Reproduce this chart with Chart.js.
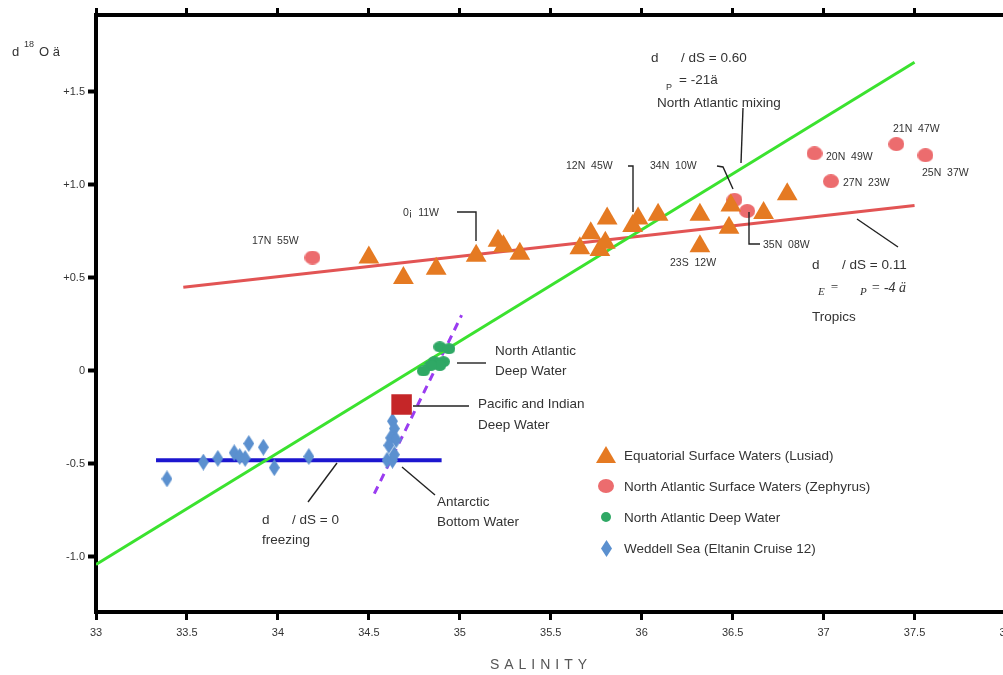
<!DOCTYPE html>
<html>
<head>
<meta charset="utf-8">
<script src="https://cdn.jsdelivr.net/npm/chart.js@4.4.1/dist/chart.umd.min.js"></script>
<style>
  html, body { margin: 0; padding: 0; background: #fff; overflow: hidden; }
  canvas { display: block; }
</style>
</head>
<body>
<canvas id="chart" width="1020" height="675"></canvas>
<script>
// axis ticks
const xTicks = [33, 33.5, 34, 34.5, 35, 35.5, 36, 36.5, 37, 37.5, 38];
const yTicks = [-1, -0.5, 0, 0.5, 1, 1.5];
const yTickLabels = ["-1.0", "-0.5", "0", "+0.5", "+1.0", "+1.5"];

// Equatorial Surface Waters (Lusiad)
const lusiadS = [34.50, 34.69, 34.87, 35.09, 35.21, 35.24, 35.33, 35.66, 35.72, 35.77, 35.80,
                 35.81, 35.95, 35.98, 36.09, 36.32, 36.32, 36.48, 36.49, 36.67, 36.80];
const lusiadD = [0.61, 0.50, 0.55, 0.62, 0.70, 0.67, 0.63, 0.66, 0.74, 0.65, 0.69,
                 0.82, 0.78, 0.82, 0.84, 0.67, 0.84, 0.77, 0.89, 0.85, 0.95];

// North Atlantic Surface Waters (Zephyrus)
const zephS = [34.19, 36.51, 36.58, 36.95, 37.04, 37.40, 37.56];
const zephD = [0.61, 0.92, 0.86, 1.17, 1.02, 1.22, 1.16];

// North Atlantic Deep Water
const nadwS = [34.89, 34.94, 34.86, 34.91, 34.89, 34.84, 34.80];
const nadwD = [0.13, 0.12, 0.05, 0.05, 0.03, 0.03, 0.00];

// Weddell Sea (Eltanin Cruise 12)
const weddS = [33.39, 33.59, 33.67, 33.76, 33.79, 33.82, 33.84, 33.92, 33.98, 34.17,
               34.63, 34.64, 34.62, 34.65, 34.61, 34.60, 34.63, 34.64];
const weddD = [-0.58, -0.49, -0.47, -0.44, -0.46, -0.47, -0.39, -0.41, -0.52, -0.46,
               -0.27, -0.31, -0.36, -0.37, -0.40, -0.48, -0.48, -0.45];

// Pacific and Indian Deep Water
const pidwS = [34.68];
const pidwD = [-0.18];

// trend lines (end points)
const mixingS = [33.0, 37.5];
const mixingD = [-1.04, 1.66];
const tropicsS = [33.48, 37.5];
const tropicsD = [0.45, 0.89];
const freezeS = [33.33, 34.9];
const freezeD = [-0.48, -0.48];
const bottomS = [34.53, 35.01];
const bottomD = [-0.66, 0.30];

const pts = (xs, ys) => xs.map((x, i) => ({ x: x, y: ys[i] }));

function ellipseImg(w, h, color) {
  const c = document.createElement("canvas");
  c.width = w; c.height = h;
  const g = c.getContext("2d");
  g.fillStyle = color;
  g.beginPath();
  g.ellipse(w / 2, h / 2, w / 2, h / 2, 0, 0, Math.PI * 2);
  g.fill();
  return c;
}
function diamondImg(w, h, color) {
  const c = document.createElement("canvas");
  c.width = w; c.height = h;
  const g = c.getContext("2d");
  g.fillStyle = color;
  g.beginPath();
  g.moveTo(w / 2, 0); g.lineTo(w, h / 2); g.lineTo(w / 2, h); g.lineTo(0, h / 2);
  g.closePath();
  g.fill();
  return c;
}

const ORANGE = "#e57a22", PINK = "#ec6c6e", GREEN = "#2fa865", BLUE = "#5b90cf", RED = "#c52628";
const pinkDot = ellipseImg(16, 14, PINK);
const greenDot = ellipseImg(13, 11, GREEN);
const blueDiamond = diamondImg(11, 17, BLUE);

const lineSet = (xs, ys, color, width, dash) => ({
  type: "scatter", data: pts(xs, ys), showLine: true, borderColor: color,
  borderWidth: width, borderDash: dash || [], pointRadius: 0, order: 5
});

const labelFont = "10.5px 'Liberation Sans', Arial, sans-serif";
const textFont = "13.5px 'Liberation Sans', Arial, sans-serif";

const notes = [
  // [text, x, y, font]
  ["17N  55W", 252, 241, labelFont],
  ["0¡  11W", 403, 213, labelFont],
  ["12N  45W", 566, 166, labelFont],
  ["34N  10W", 650, 166, labelFont],
  ["35N  08W", 763, 245, labelFont],
  ["23S  12W", 670, 263, labelFont],
  ["20N  49W", 826, 157, labelFont],
  ["27N  23W", 843, 183, labelFont],
  ["21N  47W", 893, 129, labelFont],
  ["25N  37W", 922, 173, labelFont],
  ["d      / dS = 0.60", 651, 58, textFont],
  ["P", 666, 88, "9px 'Liberation Sans', Arial, sans-serif"],
  ["= -21ä", 679, 80, textFont],
  ["North Atlantic mixing", 657, 103, textFont],
  ["d      / dS = 0.11", 812, 265, textFont],
  ["E", 818, 292, "italic 11px 'Liberation Serif', serif"],
  ["=", 830, 288, "italic 13px 'Liberation Serif', serif"],
  ["P", 860, 292, "italic 11px 'Liberation Serif', serif"],
  ["= -4 ä", 871, 288, "italic 14px 'Liberation Serif', serif"],
  ["Tropics", 812, 317, textFont],
  ["North Atlantic", 495, 351, textFont],
  ["Deep Water", 495, 371, textFont],
  ["Pacific and Indian", 478, 404, textFont],
  ["Deep Water", 478, 425, textFont],
  ["d      / dS = 0", 262, 520, textFont],
  ["freezing", 262, 540, textFont],
  ["Antarctic", 437, 502, textFont],
  ["Bottom Water", 437, 522, textFont]
];

const leaders = [
  [[743, 108], [741, 163]],
  [[628, 166], [633, 166], [633, 212]],
  [[717, 166], [723, 167], [733, 189]],
  [[749, 212], [749, 244], [760, 244]],
  [[857, 219], [898, 247]],
  [[457, 212], [476, 212], [476, 241]],
  [[337, 463], [308, 502]],
  [[402, 467], [435, 495]],
  [[457, 363], [486, 363]],
  [[413, 406], [469, 406]]
];

const legendItems = ["Equatorial Surface Waters (Lusiad)", "North Atlantic Surface Waters (Zephyrus)",
                     "North Atlantic Deep Water", "Weddell Sea (Eltanin Cruise 12)"];

const extras = {
  id: "extras",
  afterDraw(chart) {
    const ctx = chart.ctx;
    ctx.save();
    ctx.fillStyle = "#333";
    ctx.textBaseline = "middle";
    ctx.textAlign = "left";
    notes.forEach(n => { ctx.font = n[3]; ctx.fillText(n[0], n[1], n[2]); });

    ctx.strokeStyle = "#222";
    ctx.lineWidth = 1.4;
    leaders.forEach(l => {
      ctx.beginPath();
      ctx.moveTo(l[0][0], l[0][1]);
      for (let i = 1; i < l.length; i++) ctx.lineTo(l[i][0], l[i][1]);
      ctx.stroke();
    });

    // legend
    const lx = 606, ly = [455, 486, 517, 548];
    ctx.fillStyle = ORANGE;
    ctx.beginPath();
    ctx.moveTo(lx, ly[0] - 9); ctx.lineTo(lx + 10, ly[0] + 8); ctx.lineTo(lx - 10, ly[0] + 8);
    ctx.closePath(); ctx.fill();
    ctx.drawImage(pinkDot, lx - 8, ly[1] - 7);
    ctx.fillStyle = GREEN;
    ctx.beginPath(); ctx.arc(lx, ly[2], 5, 0, Math.PI * 2); ctx.fill();
    ctx.drawImage(blueDiamond, lx - 5, ly[3] - 8);
    ctx.fillStyle = "#333";
    ctx.font = textFont;
    legendItems.forEach((t, i) => ctx.fillText(t, 624, ly[i] + 1));

    // y axis title
    ctx.font = "13px 'Liberation Sans', Arial, sans-serif";
    ctx.fillText("d", 12, 52);
    ctx.font = "9px 'Liberation Sans', Arial, sans-serif";
    ctx.fillText("18", 24, 45);
    ctx.font = "13px 'Liberation Sans', Arial, sans-serif";
    ctx.fillText("O ä", 39, 52);

    // x axis title
    ctx.fillStyle = "#555";
    ctx.font = "14px 'Liberation Sans', Arial, sans-serif";
    ctx.letterSpacing = "5px";
    ctx.textAlign = "center";
    ctx.fillText("SALINITY", 541, 665);
    ctx.restore();
  }
};

const tickFont = { family: "'Liberation Sans', Arial, sans-serif", size: 11 };
const setTicks = vals => scale => { scale.ticks = vals.map(v => ({ value: v })); };

new Chart(document.getElementById("chart"), {
  data: {
    datasets: [
      { type: "scatter", label: "Pacific and Indian Deep Water", data: pts(pidwS, pidwD),
        pointStyle: "rect", pointRadius: 14.5, backgroundColor: RED, borderWidth: 0, order: 1 },
      { type: "scatter", label: legendItems[0], data: pts(lusiadS, lusiadD),
        pointStyle: "triangle", pointRadius: 12, backgroundColor: ORANGE, borderWidth: 0, order: 1 },
      { type: "scatter", label: legendItems[1], data: pts(zephS, zephD),
        pointStyle: pinkDot, order: 1 },
      { type: "scatter", label: legendItems[2], data: pts(nadwS, nadwD),
        pointStyle: greenDot, order: 1 },
      { type: "scatter", label: legendItems[3], data: pts(weddS, weddD),
        pointStyle: blueDiamond, order: 1 },
      lineSet(mixingS, mixingD, "#3be22f", 3),
      lineSet(tropicsS, tropicsD, "#e25454", 3),
      lineSet(freezeS, freezeD, "#1c16cf", 4),
      lineSet(bottomS, bottomD, "#9a3cf0", 3, [8, 6])
    ]
  },
  options: {
    responsive: false,
    animation: false,
    layout: { padding: { left: 0, right: 12, top: 0, bottom: 0 } },
    plugins: { legend: { display: false }, tooltip: { enabled: false } },
    scales: {
      x: {
        type: "linear", position: "bottom", min: 33, max: 38,
        afterBuildTicks: setTicks(xTicks),
        afterFit: s => { s.height = 63; },
        ticks: { font: tickFont, color: "#333", padding: 6, maxRotation: 0, autoSkip: false,
                 callback: v => String(v) },
        grid: { drawOnChartArea: false, tickLength: 8, tickWidth: 3, tickColor: "#000" },
        border: { display: true, width: 4, color: "#000" }
      },
      x2: {
        type: "linear", position: "top", min: 33, max: 38,
        afterBuildTicks: setTicks(xTicks),
        afterFit: s => { s.height = 15; },
        ticks: { display: false },
        grid: { drawOnChartArea: false, tickLength: 7, tickWidth: 3, tickColor: "#000" },
        border: { display: true, width: 4, color: "#000" }
      },
      y: {
        type: "linear", position: "left", min: -1.296, max: 1.914,
        afterBuildTicks: setTicks(yTicks),
        afterFit: s => { s.width = 96; },
        ticks: { font: tickFont, color: "#333", padding: 3,
                 callback: v => yTickLabels[yTicks.indexOf(v)] },
        grid: { drawOnChartArea: false, tickLength: 8, tickWidth: 4, tickColor: "#000" },
        border: { display: true, width: 4, color: "#000" }
      }
    }
  },
  plugins: [extras]
});
</script>
</body>
</html>
